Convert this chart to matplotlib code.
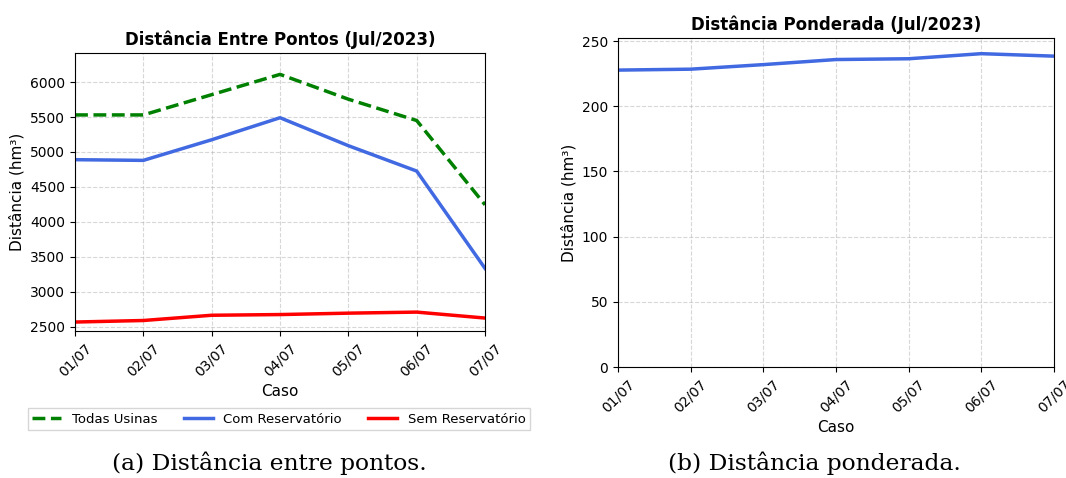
import matplotlib
matplotlib.use("Agg")
import matplotlib.pyplot as plt

# =====================================================================
# DATA
# =====================================================================
casos = ["01/07", "02/07", "03/07", "04/07", "05/07", "06/07", "07/07"]

todas_usinas = [5530, 5530, 5820, 6110, 5755, 5450, 4245]
com_reservatorio = [4890, 4880, 5175, 5490, 5090, 4727, 3335]
sem_reservatorio = [2568, 2590, 2665, 2675, 2695, 2710, 2625]

ponderada = [227.8, 228.5, 232.0, 235.9, 236.5, 240.4, 238.5]

plt.rcParams['font.family'] = ['DejaVu Sans']

fig = plt.figure(figsize=(10.66, 4.78), dpi=100)

# =====================================================================
# (a) Distancia entre pontos
# =====================================================================
ax1 = fig.add_axes([0.0704, 0.3075, 0.3846, 0.5816])
x = range(len(casos))
ax1.plot(x, todas_usinas, color='green', linestyle='--', linewidth=2.5, label='Todas Usinas')
ax1.plot(x, com_reservatorio, color='royalblue', linewidth=2.5, label='Com Reservatório')
ax1.plot(x, sem_reservatorio, color='red', linewidth=2.5, label='Sem Reservatório')

ax1.set_xlim(0, len(casos) - 1)
lo = min(sem_reservatorio) * 0.95
hi = max(todas_usinas) * 1.05
ax1.set_ylim(lo, hi)
ax1.set_xticks(list(x))
ax1.set_xticklabels(casos, rotation=45)
ax1.set_title('Distância Entre Pontos (Jul/2023)', fontsize=12, fontweight='bold')
ax1.set_xlabel('Caso', fontsize=11)
ax1.set_ylabel('Distância (hm³)', fontsize=11)
ax1.tick_params(labelsize=10)
ax1.grid(True, linestyle='--', alpha=0.5)
fig.legend(*ax1.get_legend_handles_labels(), loc='center',
           bbox_to_anchor=(0.2617, 0.1234), ncol=3, fontsize=9.5,
           frameon=True, fancybox=False, handlelength=2.2, handletextpad=0.8,
           columnspacing=2.0, borderpad=0.35)

# =====================================================================
# (b) Distancia ponderada
# =====================================================================
ax2 = fig.add_axes([0.5797, 0.2322, 0.4090, 0.6883])
ax2.plot(x, ponderada, color='royalblue', linewidth=2.5)
ax2.set_xlim(0, len(casos) - 1)
ax2.set_ylim(0, max(ponderada) * 1.05)
ax2.set_xticks(list(x))
ax2.set_xticklabels(casos, rotation=45)
ax2.set_title('Distância Ponderada (Jul/2023)', fontsize=12, fontweight='bold')
ax2.set_xlabel('Caso', fontsize=11)
ax2.set_ylabel('Distância (hm³)', fontsize=11)
ax2.tick_params(labelsize=10)
ax2.grid(True, linestyle='--', alpha=0.5)

# captions
fig.text(0.253, 0.031, '(a) Distância entre pontos.', ha='center', va='center',
         fontsize=16.8, family=['DejaVu Serif'])
fig.text(0.764, 0.031, '(b) Distância ponderada.', ha='center', va='center',
         fontsize=16.8, family=['DejaVu Serif'])

plt.savefig('out.png', dpi=100)
